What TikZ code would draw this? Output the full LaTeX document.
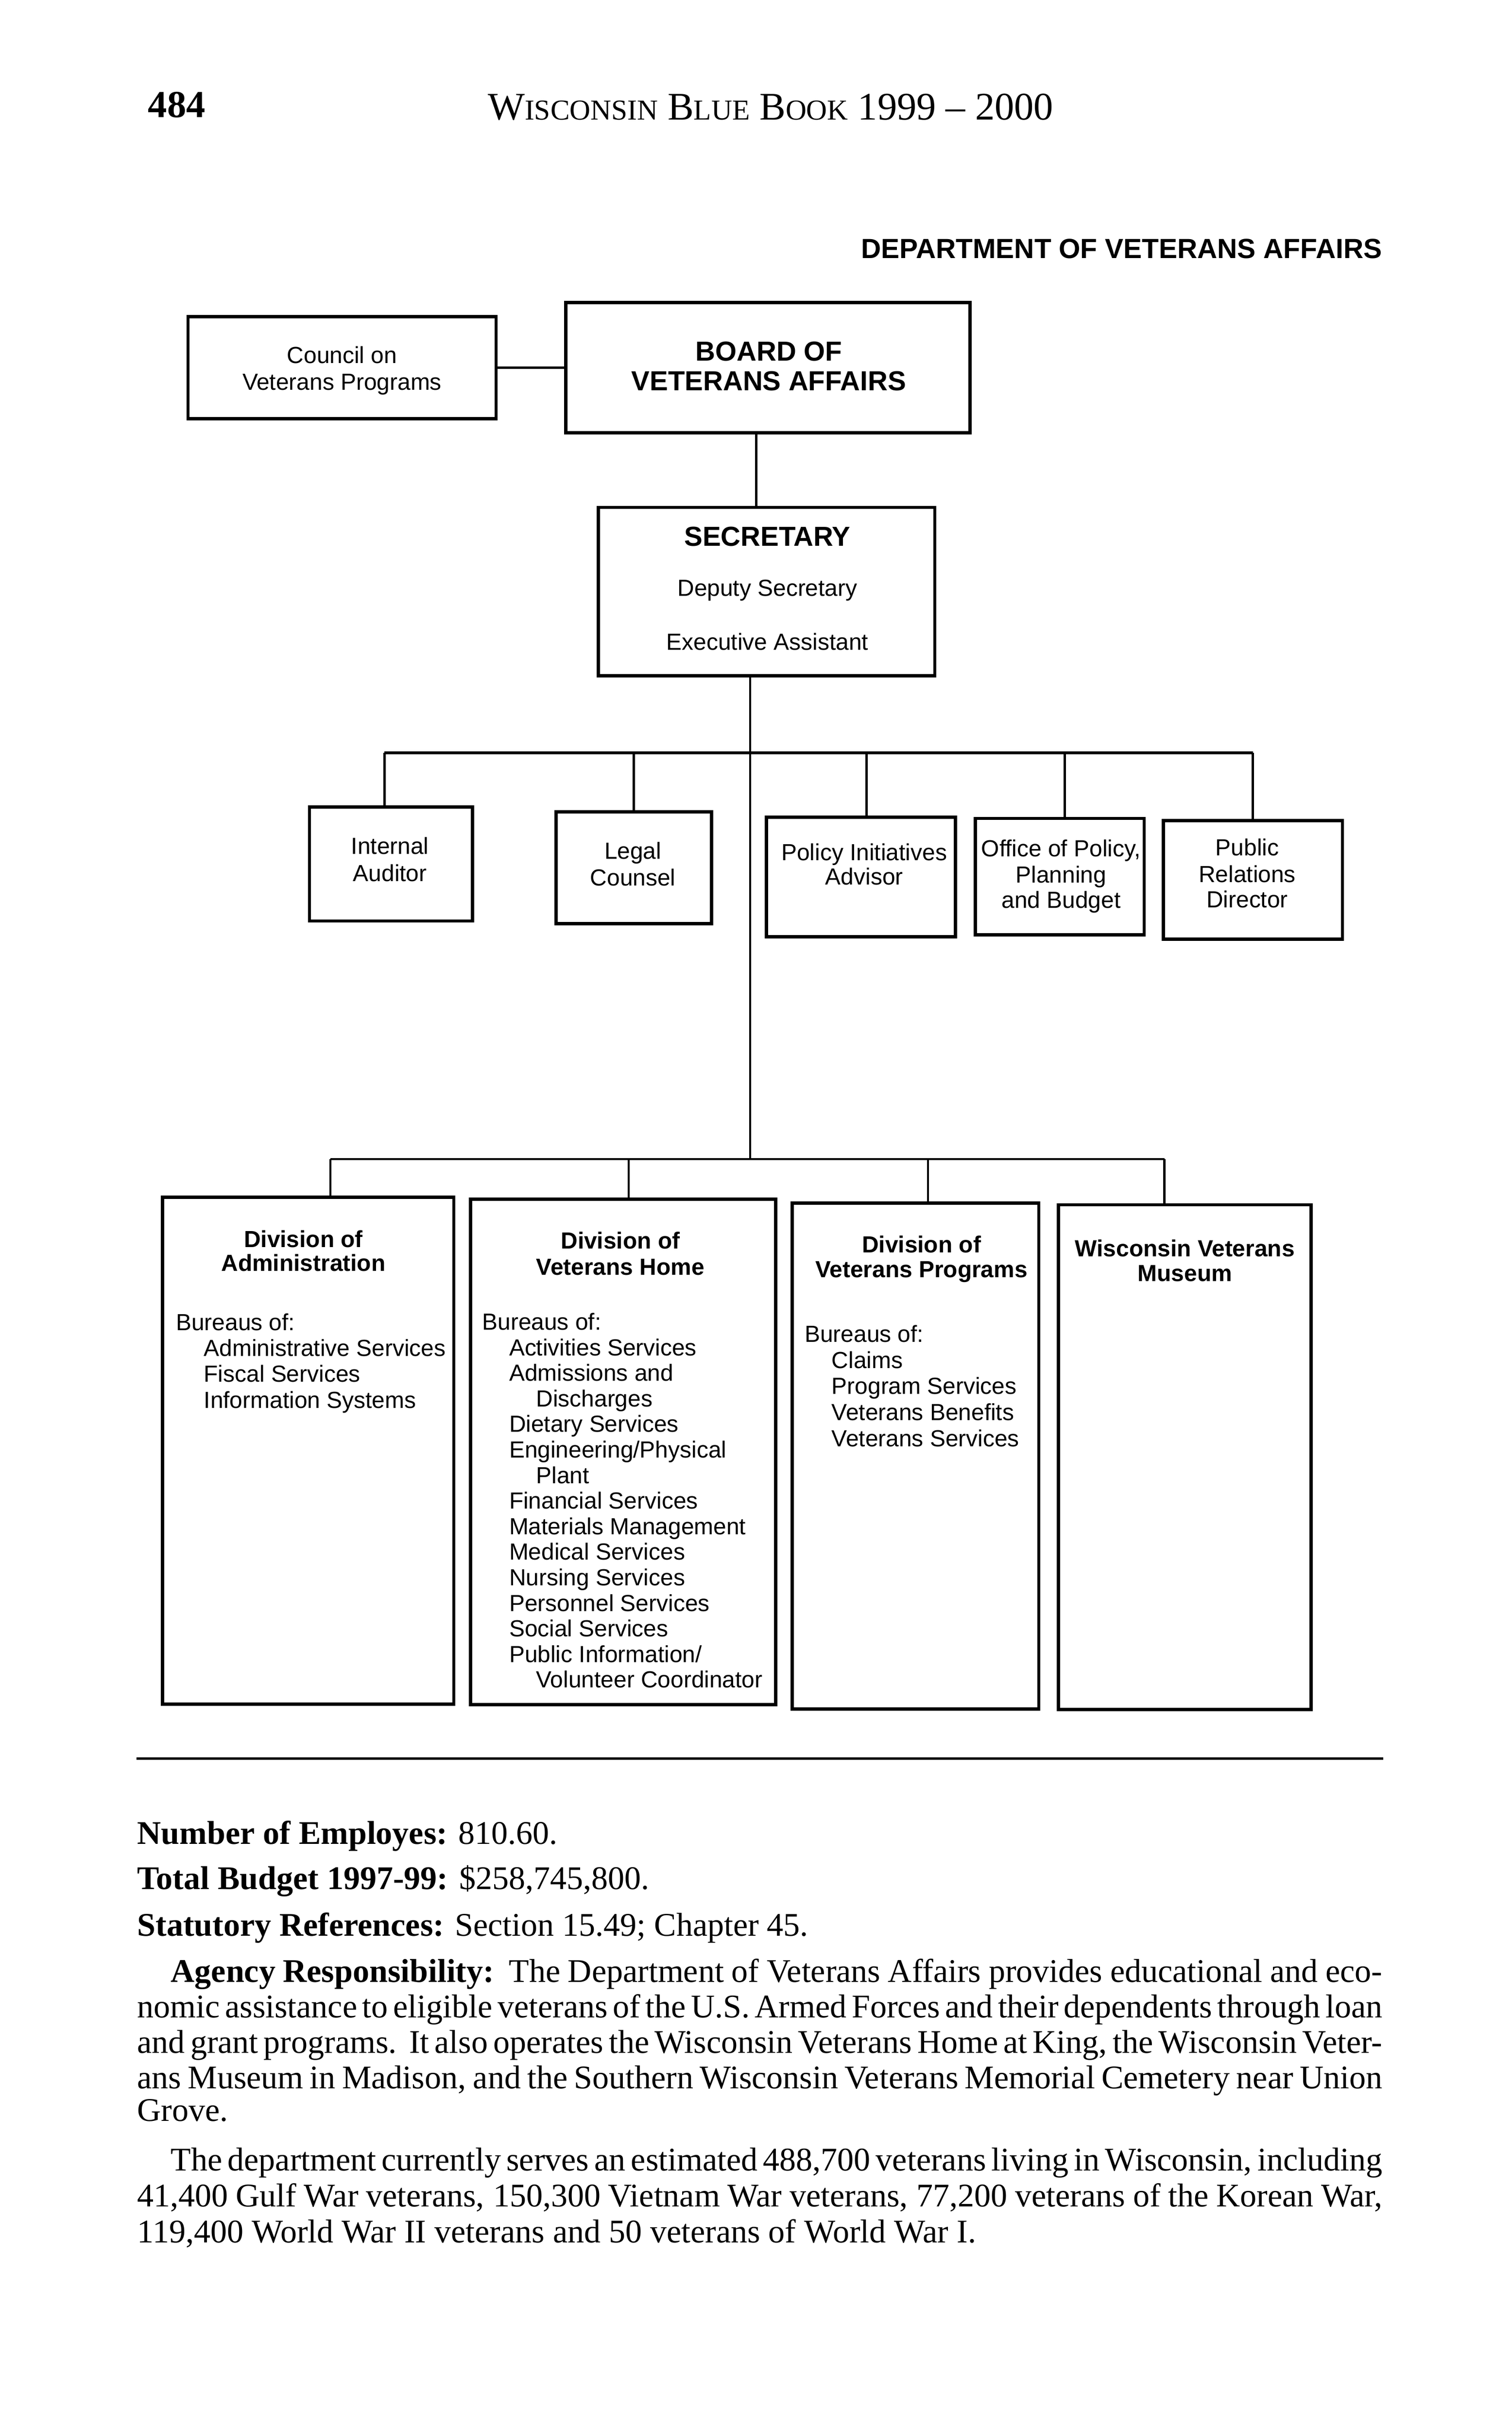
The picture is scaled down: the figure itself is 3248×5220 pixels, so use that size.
\documentclass[tikz,border=0pt]{standalone}
\usepackage{fontspec}
\usepackage{graphicx}
\setmainfont{Liberation Serif}
\newfontfamily\hv{Liberation Sans}
\usetikzlibrary{calc}
\newcommand\scx[2]{#1{\fontsize{62}{62}\selectfont #2}}
\newsavebox\jbox
\newcommand\jline[2]{\sbox\jbox{\spaceskip=0.1em\relax #2}\ifdim\wd\jbox>#1\relax\resizebox{#1}{\ht\jbox}{\usebox\jbox}\else\hbox to #1{\spaceskip=0.1em plus 1fil\relax #2}\fi}
\begin{document}
\begin{tikzpicture}[x=1pt,y=-1pt,
  box/.style 2 args={draw, line width=7pt, minimum width=#1, minimum height=#2, inner sep=0pt, outer sep=0pt},
  conn/.style={line width=5pt},
  bar/.style={line width=7pt},
  lbl/.style={font=\hv\fontsize{50}{56}\selectfont, inner sep=0pt, anchor=base},
  ttl/.style={font=\hv\bfseries\fontsize{59}{64}\selectfont, inner sep=0pt, anchor=base},
  sub/.style={font=\hv\bfseries\fontsize{50}{56}\selectfont, inner sep=0pt, anchor=base},
  bur/.style={font=\hv\fontsize{50}{56}\selectfont, inner sep=0pt, anchor=base west},
  body/.style={font=\fontsize{71}{78}\selectfont, inner sep=0pt, anchor=base west},
]
\fill[white] (0,0) rectangle (3248,5220);
\useasboundingbox (0,0) rectangle (3248,5220);

% running head
\node[font=\bfseries\fontsize{82}{82}\selectfont, anchor=base west, inner sep=0pt] (pagenum) at (318,252) {484};
\node[font=\fontsize{84}{84}\selectfont, anchor=base, inner sep=0pt] (runhead) at (1656,257) {\scx{W}{ISCONSIN} \scx{B}{LUE} \scx{B}{OOK} 1999 -- 2000};
\node[font=\hv\bfseries\fontsize{59.5}{60}\selectfont, anchor=base east, inner sep=0pt] (dept) at (2970,555) {DEPARTMENT OF VETERANS AFFAIRS};

% boxes
\node[box={662pt}{219pt}] (council) at (735,790) {};
\node[box={869pt}{280pt}] (board) at (1650,790) {};
\node[box={723pt}{362pt}] (sec) at (1647,1271) {};
\node[box={350pt}{245pt}] (aud) at (840,1856) {};
\node[box={334pt}{240pt}] (legal) at (1362,1864) {};
\node[box={406pt}{257pt}] (pol) at (1850,1884) {};
\node[box={363pt}{250pt}] (opb) at (2277,1883) {};
\node[box={385pt}{255pt}] (pr) at (2692,1890) {};
\node[box={626pt}{1089pt}] (adm) at (662,3116) {};
\node[box={656pt}{1086pt}] (home) at (1339,3119) {};
\node[box={530pt}{1087pt}] (prog) at (1967,3128) {};
\node[box={543pt}{1084pt}] (mus) at (2546,3130) {};

% connectors
\coordinate (upbar) at (1612,1617);
\coordinate (lowbar) at (1612,2490);
\draw[conn] (council.east) -- (board.west |- council.east);
\draw[conn] ([xshift=-25pt]board.south) -- ([xshift=-25pt]board.south |- sec.north);
\draw[conn] ([xshift=-35pt]sec.south) -- ([xshift=-35pt]sec.south |- lowbar);
\draw[bar] ([xshift=-14pt]aud.north |- upbar) -- (pr.north |- upbar);
\foreach \n/\dx in {aud/-14,legal/0,pol/12,opb/11,pr/0}
  \draw[conn] ([xshift=\dx pt]\n.north |- upbar) -- ([xshift=\dx pt]\n.north);
\draw[conn] ([xshift=48pt]adm.north |- lowbar) -- ([xshift=-44pt]mus.north |- lowbar);
\foreach \n/\dx in {adm/48,home/12,prog/27,mus/-44}
  \draw[conn] ([xshift=\dx pt]\n.north |- lowbar) -- ([xshift=\dx pt]\n.north);

% box texts
\node[lbl] (t-council1) at (735,780) {Council on};
\node[lbl] (t-council2) at (735,838) {Veterans Programs};
\node[ttl] (t-board1) at (1652,775) {BOARD OF};
\node[ttl] (t-board2) at (1652,839) {VETERANS AFFAIRS};
\node[ttl] (t-sec1) at (1649,1173) {SECRETARY};
\node[lbl] (t-sec2) at (1649,1280) {Deputy Secretary};
\node[lbl] (t-sec3) at (1649,1396) {Executive Assistant};
\node[lbl] (t-aud1) at (838,1835) {Internal};
\node[lbl] (t-aud2) at (838,1893) {Auditor};
\node[lbl] (t-legal1) at (1360,1845) {Legal};
\node[lbl] (t-legal2) at (1360,1903) {Counsel};
\node[lbl] (t-pol1) at (1857,1848) {Policy Initiatives};
\node[lbl] (t-pol2) at (1857,1901) {Advisor};
\node[lbl] (t-opb1) at (2280,1840) {Office of Policy,};
\node[lbl] (t-opb2) at (2280,1896) {Planning};
\node[lbl] (t-opb3) at (2280,1951) {and Budget};
\node[lbl] (t-pr1) at (2680,1838) {Public};
\node[lbl] (t-pr2) at (2680,1895) {Relations};
\node[lbl] (t-pr3) at (2680,1950) {Director};

\node[sub] (t-adm1) at (652,2679) {Division of};
\node[sub] (t-adm2) at (652,2731) {Administration};
\node[sub] (t-home1) at (1333,2683) {Division of};
\node[sub] (t-home2) at (1333,2739) {Veterans Home};
\node[sub] (t-prog1) at (1980,2691) {Division of};
\node[sub] (t-prog2) at (1980,2744) {Veterans Programs};
\node[sub] (t-mus1) at (2546,2699) {Wisconsin Veterans};
\node[sub] (t-mus2) at (2546,2752) {Museum};

\foreach \t [count=\i from 0] in {Bureaus of:,\hspace*{60pt}Administrative Services,\hspace*{60pt}Fiscal Services,\hspace*{60pt}Information Systems}
  \node[bur] (b-adm-\i) at (378,2858+\i*55.5) {\t};
\foreach \t [count=\i from 0] in {Bureaus of:,\hspace*{58pt}Activities Services,\hspace*{58pt}Admissions and,\hspace*{116pt}Discharges,\hspace*{58pt}Dietary Services,\hspace*{58pt}Engineering/Physical,\hspace*{116pt}Plant,\hspace*{58pt}Financial Services,\hspace*{58pt}Materials Management,\hspace*{58pt}Medical Services,\hspace*{58pt}Nursing Services,\hspace*{58pt}Personnel Services,\hspace*{58pt}Social Services,\hspace*{58pt}Public Information/,\hspace*{116pt}Volunteer Coordinator}
  \node[bur] (b-home-\i) at (1036,2857+\i*54.9) {\t};
\foreach \t [count=\i from 0] in {Bureaus of:,\hspace*{58pt}Claims,\hspace*{58pt}Program Services,\hspace*{58pt}Veterans Benefits,\hspace*{58pt}Veterans Services}
  \node[bur] (b-prog-\i) at (1729,2883+\i*56) {\t};

% rule and body text
\draw[line width=5pt] (293,3778) -- (2972,3778);
\node[body] (emp) at (295,3961) {\textbf{Number of Employes:} 810.60.};
\node[body] (budget) at (295,4059) {\textbf{Total Budget 1997-99:} \$258,745,800.};
\node[body] (stat) at (295,4159) {\textbf{Statutory References:} Section 15.49; Chapter 45.};
\node[body] (ag1) at (367,4258) {\jline{2603pt}{\textbf{Agency Responsibility:} The Department of Veterans Affairs provides educational and eco-}};
\node[body] (ag2) at (295,4334) {\jline{2675pt}{nomic assistance to eligible veterans of the U.S. Armed Forces and their dependents through loan}};
\node[body] (ag3) at (295,4410) {\jline{2675pt}{and grant programs. It also operates the Wisconsin Veterans Home at King, the Wisconsin Veter-}};
\node[body] (ag4) at (295,4487) {\jline{2675pt}{ans Museum in Madison, and the Southern Wisconsin Veterans Memorial Cemetery near Union}};
\node[body] (ag5) at (295,4557) {Grove.};
\node[body] (dp1) at (367,4663) {\jline{2603pt}{The department currently serves an estimated 488,700 veterans living in Wisconsin, including}};
\node[body] (dp2) at (295,4740) {\jline{2675pt}{41,400 Gulf War veterans, 150,300 Vietnam War veterans, 77,200 veterans of the Korean War,}};
\node[body] (dp3) at (295,4817) {119,400 World War II veterans and 50 veterans of World War I.};
\end{tikzpicture}
\end{document}
